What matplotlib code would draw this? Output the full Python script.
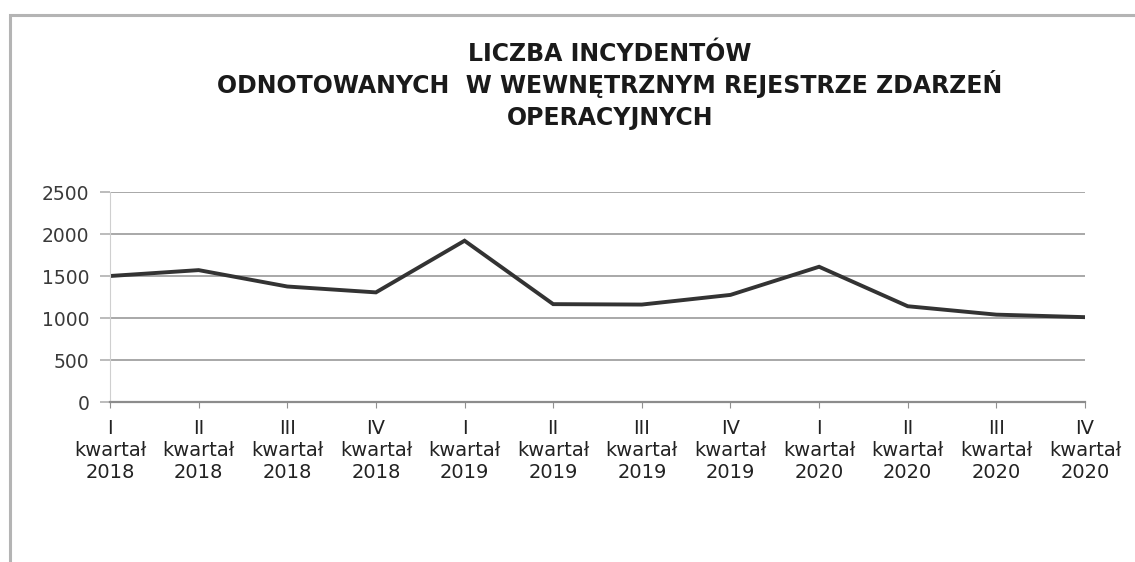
import matplotlib.pyplot as plt
from matplotlib.patches import Rectangle

# data
quarters = ['I', 'II', 'III', 'IV'] * 3
years = ['2018'] * 4 + ['2019'] * 4 + ['2020'] * 4
incidents = [1500, 1570, 1375, 1305, 1920, 1165, 1160, 1275, 1610, 1140, 1040, 1010]
labels = [q + '\nkwartał\n' + y for q, y in zip(quarters, years)]
yticks = [0, 500, 1000, 1500, 2000, 2500]
title_lines = ['LICZBA INCYDENTÓW',
               'ODNOTOWANYCH  W WEWNĘTRZNYM REJESTRZE ZDARZEŃ',
               'OPERACYJNYCH']

plt.rcParams['font.family'] = ['DejaVu Sans']

W, H = 1135, 562
fig = plt.figure(figsize=(W / 100, H / 100), dpi=100)
ax = fig.add_axes([110 / W, 1 - 402 / H, 975 / W, 210 / H])

# outer frame of the chart (partly cut off in the scan)
fig.patches.append(Rectangle((10 / W, -0.1), 1.2, 1 - 15 / H + 0.1,
                             transform=fig.transFigure, fill=False,
                             edgecolor='#b4b4b4', linewidth=2.2))

# title, one line at a time
for i, line in enumerate(title_lines):
    fig.text(610 / W, 1 - (61 + 32 * i) / H, line, ha='center', va='baseline',
             fontsize=17, fontweight='bold', color='#1a1a1a')

x = list(range(len(incidents)))
ax.plot(x, incidents, color='#333333', linewidth=2.8, solid_joinstyle='miter')

ax.set_xlim(0, len(incidents) - 1)
ax.set_ylim(0, 2500)
ax.set_yticks(yticks)
ax.set_xticks(x)
ax.set_xticklabels(labels, fontsize=14, color='#222222', linespacing=1.22)
ax.tick_params(axis='y', labelsize=13.5, colors='#3a3a3a', length=7, color='#b0b0b0',
               width=1.2, pad=8)
ax.tick_params(axis='x', length=4, color='#909090', pad=8)

ax.grid(axis='y', color='#a8a8a8', linewidth=1.4)
ax.set_axisbelow(True)
for side in ['top', 'right']:
    ax.spines[side].set_visible(False)
ax.spines['left'].set_color('#cfcfcf')
ax.spines['bottom'].set_color('#8c8c8c')
ax.spines['bottom'].set_linewidth(1.6)

fig.savefig('out.png', dpi=100)
